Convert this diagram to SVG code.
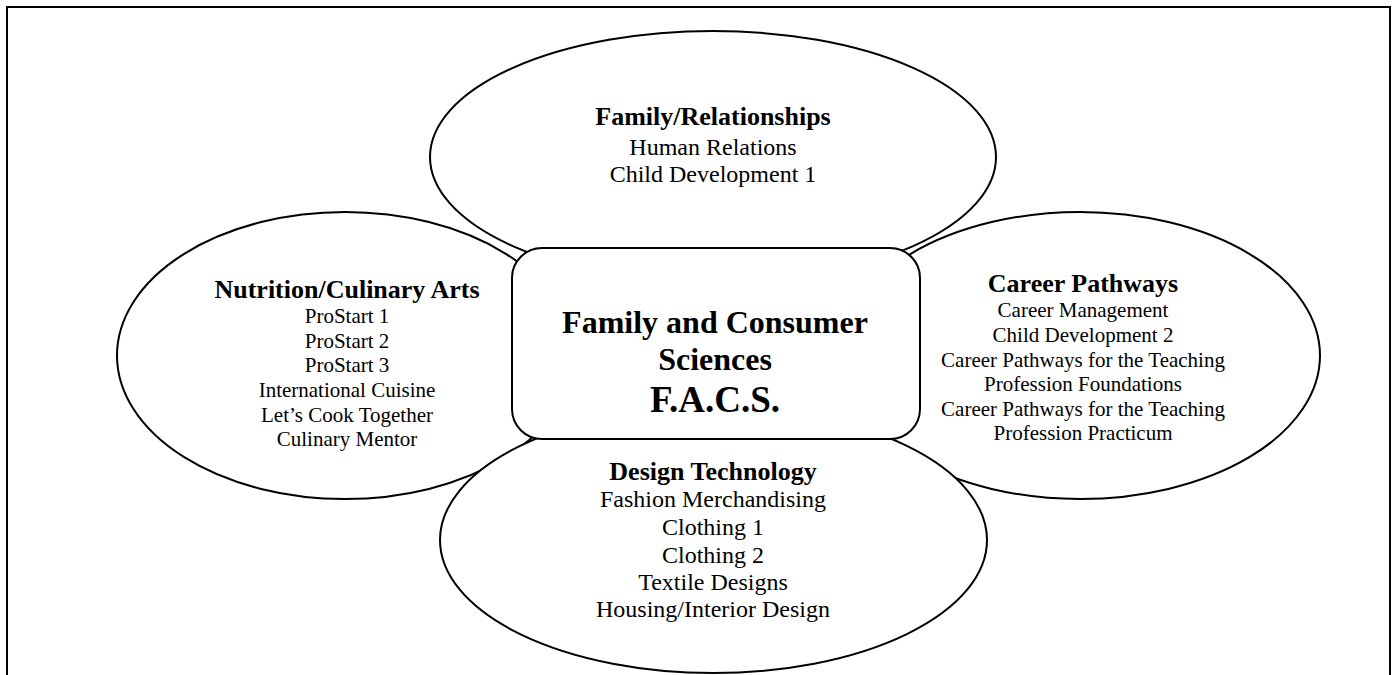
<svg xmlns="http://www.w3.org/2000/svg" width="1398" height="675" viewBox="0 0 1398 675">
<style>
.shape{fill:#fff;stroke:#000;stroke-width:2}
text{font-family:"Liberation Serif","Times New Roman",serif;fill:#000;text-anchor:middle}
.h{font-weight:bold;font-size:26px}
.t24{font-size:24px}
.t21{font-size:21px}
.c{font-weight:bold;font-size:32px}
.cb{font-weight:bold;font-size:37px}
</style>
<rect width="1398" height="675" fill="#fff"/>
<path d="M7,676 V7 H1390 V676" fill="none" stroke="#000" stroke-width="2"/>
<g id="node-family">
<ellipse class="shape" cx="713" cy="157" rx="283" ry="126"/>
<text class="h" x="713" y="125">Family/Relationships</text>
<text class="t24" x="713" y="155">Human Relations</text>
<text class="t24" x="713" y="182">Child Development 1</text>
</g>
<g id="node-nutrition">
<ellipse class="shape" cx="345" cy="355.5" rx="228" ry="143.5"/>
<text class="h" x="347" y="298">Nutrition/Culinary Arts</text>
<text class="t21" x="347" y="323">ProStart 1</text>
<text class="t21" x="347" y="348">ProStart 2</text>
<text class="t21" x="347" y="372">ProStart 3</text>
<text class="t21" x="347" y="397">International Cuisine</text>
<text class="t21" x="347" y="422">Let’s Cook Together</text>
<text class="t21" x="347" y="446">Culinary Mentor</text>
</g>
<g id="node-career">
<ellipse class="shape" cx="1080" cy="355.5" rx="240" ry="143.5"/>
<text class="h" x="1083" y="292">Career Pathways</text>
<text class="t21" x="1083" y="317">Career Management</text>
<text class="t21" x="1083" y="342">Child Development 2</text>
<text class="t21" x="1083" y="367">Career Pathways for the Teaching</text>
<text class="t21" x="1083" y="391">Profession Foundations</text>
<text class="t21" x="1083" y="416">Career Pathways for the Teaching</text>
<text class="t21" x="1083" y="440">Profession Practicum</text>
</g>
<g id="node-design">
<ellipse class="shape" cx="713.5" cy="540" rx="273.5" ry="133"/>
<text class="h" x="713" y="480">Design Technology</text>
<text class="t24" x="713" y="507">Fashion Merchandising</text>
<text class="t24" x="713" y="535">Clothing 1</text>
<text class="t24" x="713" y="563">Clothing 2</text>
<text class="t24" x="713" y="590">Textile Designs</text>
<text class="t24" x="713" y="617">Housing/Interior Design</text>
</g>
<g id="node-facs">
<rect class="shape" x="512" y="248" width="408" height="191" rx="30" ry="30"/>
<text class="c" x="715" y="333">Family and Consumer</text>
<text class="c" x="715" y="370">Sciences</text>
<text class="cb" x="715" y="412">F.A.C.S.</text>
</g>
<g id="connectors"/>
</svg>
